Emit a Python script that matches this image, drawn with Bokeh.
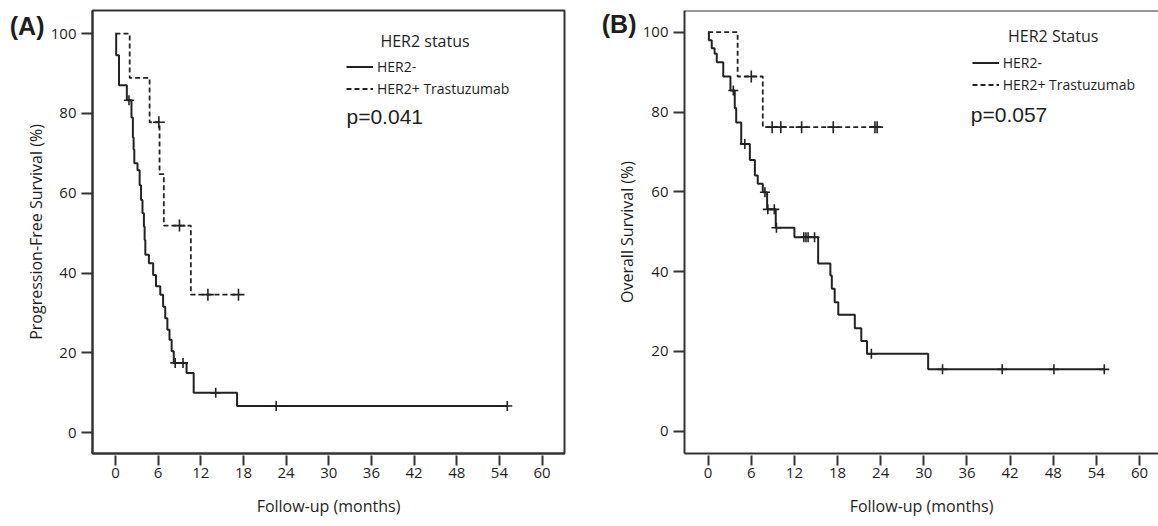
from bokeh.plotting import figure
from bokeh.models import Range1d, FixedTicker, Label, Legend, LegendItem, Span, LinearAxis
from bokeh.layouts import row
from bokeh.embed import file_html
from bokeh.resources import INLINE

# ---------------- data ----------------
x_ticks = [0, 6, 12, 18, 24, 30, 36, 42, 48, 54, 60]
y_ticks = [0, 20, 40, 60, 80, 100]

# Panel A: progression-free survival
pfs_neg_t = [0, 0.1, 0.5, 1.6, 2.25, 2.45, 2.55, 2.65, 3.1, 3.4, 3.6, 3.8, 4.0, 4.1, 4.2,
             4.7, 5.3, 5.7, 6.3, 6.7, 7.0, 7.3, 7.6, 7.9, 8.2, 10.0, 11.0, 17.1, 55.1]
pfs_neg_s = [100, 94.6, 87.1, 83.3, 79.0, 74.0, 71.0, 67.5, 65.8, 62.0, 58.3, 55.0, 51.7, 48.3, 44.6,
             42.5, 39.5, 36.7, 34.6, 31.6, 28.7, 25.8, 23.3, 20.4, 17.5, 15.0, 10.0, 6.7, 6.7]
pfs_neg_cens_t = [1.9, 8.4, 9.5, 14.1, 22.6, 55.1]
pfs_neg_cens_s = [83.3, 17.5, 17.5, 10.0, 6.7, 6.7]

pfs_pos_t = [0, 2.0, 4.8, 6.2, 6.8, 10.6, 17.3]
pfs_pos_s = [100, 88.9, 77.8, 64.8, 51.9, 34.6, 34.6]
pfs_pos_cens_t = [6.1, 9.0, 13.0, 17.3]
pfs_pos_cens_s = [77.8, 51.9, 34.6, 34.6]

# Panel B: overall survival
os_neg_t = [0, 0.1, 0.5, 0.9, 1.2, 2.1, 3.1, 3.7, 3.9, 4.6, 5.8, 6.5, 6.9, 7.6, 8.2, 9.4,
            12.0, 15.3, 17.0, 17.2, 17.6, 18.1, 20.4, 21.3, 22.1, 30.6, 55.1]
os_neg_s = [100, 98.0, 96.0, 94.6, 92.5, 88.9, 85.4, 81.0, 77.4, 72.0, 68.0, 64.1, 62.0, 59.9, 55.6, 51.0,
            48.6, 42.0, 39.0, 35.7, 32.3, 29.2, 25.8, 22.6, 19.4, 15.5, 15.5]
os_neg_cens_t = [3.5, 5.1, 7.9, 8.3, 9.2, 9.5, 13.3, 13.6, 13.9, 14.8, 22.7, 32.6, 40.9, 48.1, 55.1]
os_neg_cens_s = [85.4, 72.0, 59.9, 55.6, 55.6, 51.0, 48.6, 48.6, 48.6, 48.6, 19.4, 15.5, 15.5, 15.5, 15.5]

os_pos_t = [0, 4.1, 7.6, 23.5]
os_pos_s = [100, 88.9, 76.2, 76.2]
os_pos_cens_t = [6.0, 8.9, 10.1, 13.0, 17.4, 23.2, 23.5]
os_pos_cens_s = [88.9, 76.2, 76.2, 76.2, 76.2, 76.2, 76.2]

series_labels = ["HER2-", "HER2+ Trastuzumab"]

# ---------------- styling ----------------
H = 526
INK = "#222222"
FRAME = "#333333"
TXT = "#1e1e1e"
SANS = "Open Sans"
ARIAL = "Liberation Sans"


def make_fig(width, b_left, b_right, b_bottom, xr, yr, ylabel, ylab_standoff):
    p = figure(width=width, height=H, x_range=Range1d(*xr), y_range=Range1d(*yr),
               output_backend="svg", toolbar_location=None,
               min_border_left=b_left, min_border_right=b_right,
               min_border_top=10, min_border_bottom=b_bottom,
               background_fill_color="white", border_fill_color="white")
    p.xgrid.visible = False
    p.ygrid.visible = False
    p.outline_line_color = None

    ax = p.xaxis[0]
    ax.ticker = FixedTicker(ticks=x_ticks)
    ax.axis_label = "Follow-up (months)"
    ax.axis_line_color = FRAME
    ax.axis_line_width = 2
    ax.major_tick_in = -2
    ax.major_tick_out = 12
    ax.major_tick_line_color = FRAME
    ax.major_tick_line_width = 2
    ax.minor_tick_line_color = None
    ax.major_label_standoff = 2
    ax.axis_label_standoff = 14
    ax.major_label_text_font = SANS
    ax.major_label_text_font_size = "15px"
    ax.major_label_text_color = TXT
    ax.axis_label_text_font = SANS
    ax.axis_label_text_font_size = "16px"
    ax.axis_label_text_font_style = "normal"
    ax.axis_label_text_color = TXT

    ay = p.yaxis[0]
    ay.ticker = FixedTicker(ticks=y_ticks)
    ay.axis_label = ylabel
    ay.axis_line_color = FRAME
    ay.axis_line_width = 2
    ay.major_tick_in = 0
    ay.major_tick_out = 11
    ay.major_tick_line_color = FRAME
    ay.major_tick_line_width = 2
    ay.minor_tick_line_color = None
    ay.major_label_standoff = 5
    ay.axis_label_standoff = ylab_standoff
    ay.major_label_text_font = SANS
    ay.major_label_text_font_size = "15px"
    ay.major_label_text_color = TXT
    ay.axis_label_text_font = SANS
    ay.axis_label_text_font_size = "16px"
    ay.axis_label_text_font_style = "normal"
    ay.axis_label_text_color = TXT
    return p


def add_panel_tag(p, y_at, tag, standoff):
    # panel letter drawn as the only label of an extra, line-less axis on the left
    tag_axis = LinearAxis(ticker=FixedTicker(ticks=[y_at]), major_label_overrides={y_at: tag},
                          axis_line_color=None, major_tick_line_color=None,
                          minor_tick_line_color=None, major_tick_in=0, major_tick_out=0,
                          major_label_standoff=standoff, major_label_text_font=ARIAL,
                          major_label_text_font_size="25px", major_label_text_font_style="bold",
                          major_label_text_color=TXT)
    p.add_layout(tag_axis, "left")


def draw_panel(p, neg_t, neg_s, negc_t, negc_s, pos_t, pos_s, posc_t, posc_s):
    r_neg = p.step(neg_t, neg_s, mode="after", line_color=INK, line_width=2)
    r_pos = p.step(pos_t, pos_s, mode="after", line_color=INK, line_width=1.8, line_dash="5 3")
    p.scatter(negc_t, negc_s, marker="cross", size=10, line_color=INK, line_width=1.6)
    p.scatter(posc_t, posc_s, marker="cross", size=12, line_color=INK, line_width=1.6)
    return r_neg, r_pos


def add_legend(p, r_neg, r_pos, loc):
    leg = Legend(items=[LegendItem(label=series_labels[0], renderers=[r_neg]),
                        LegendItem(label=series_labels[1], renderers=[r_pos])],
                 location=loc, border_line_color=None, background_fill_alpha=0,
                 padding=0, margin=0, spacing=3, glyph_width=27, glyph_height=17,
                 label_height=17, label_standoff=4,
                 label_text_font=SANS, label_text_font_size="14px", label_text_color=TXT)
    p.add_layout(leg)


def add_text(p, x, y, text, font, size, align="left"):
    p.add_layout(Label(x=x, y=y, x_units="screen", y_units="screen", text=text,
                       text_font=font, text_font_size=size, text_color=TXT,
                       text_align=align, text_baseline="middle"))


FB_A = 454   # frame bottom of panel A (pixels from top)
FB_B = 453

# ---------------- Panel A ----------------
pA = make_fig(598, 92, 34, H - FB_A, (-3.23, 63.15), (-5.2, 105.8),
              "Progression-Free Survival (%)", 1)
pA.outline_line_color = FRAME
pA.outline_line_width = 2
rn, rp = draw_panel(pA, pfs_neg_t, pfs_neg_s, pfs_neg_cens_t, pfs_neg_cens_s,
                    pfs_pos_t, pfs_pos_s, pfs_pos_cens_t, pfs_pos_cens_s)
add_legend(pA, rn, rp, (254, 355.5))
add_text(pA, 332.5, 413, "HER2 status", SANS, "16px", align="center")
add_text(pA, 254, 337, "p=0.041", ARIAL, "21px")
add_panel_tag(pA, 102, "(A)", -23)

# ---------------- Panel B ----------------
pB = make_fig(560, 85, 0, H - FB_B, (-3.29, 62.64), (-5.59, 105.44),
              "Overall Survival (%)", 2)
pB.add_layout(Span(location=105.44, dimension="width", line_color=FRAME, line_width=2))
rn, rp = draw_panel(pB, os_neg_t, os_neg_s, os_neg_cens_t, os_neg_cens_s,
                    os_pos_t, os_pos_s, os_pos_cens_t, os_pos_cens_s)
add_legend(pB, rn, rp, (287.7, 359.5))
add_text(pB, 368.7, 417.5, "HER2 Status", SANS, "16px", align="center")
add_text(pB, 286.3, 339, "p=0.057", ARIAL, "21px")
add_panel_tag(pB, 102, "(B)", -24)

layout = row(pA, pB)
open("out.html", "w").write(file_html(layout, INLINE))
